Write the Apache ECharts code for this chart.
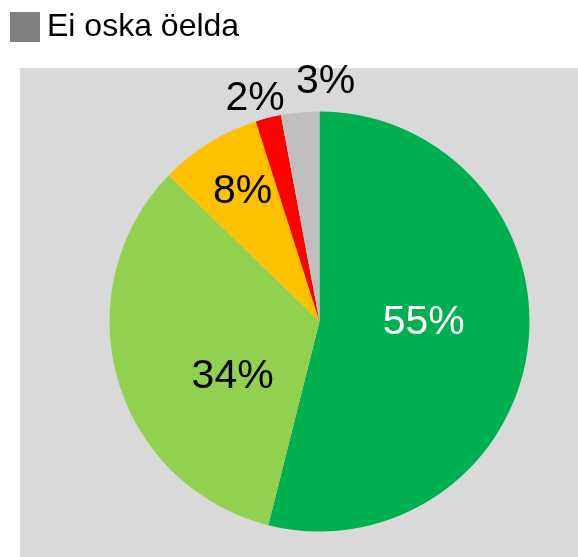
<!DOCTYPE html>
<html>
<head>
<meta charset="utf-8">
<script src="https://cdn.jsdelivr.net/npm/echarts@6/dist/echarts.min.js"></script>
<style>
html,body{margin:0;padding:0;background:#fff;}
#c{width:578px;height:557px;}
</style>
</head>
<body>
<div id="c"></div>
<script>
var categories = ['Täiesti nõus', 'Pigem nõus', 'Pigem ei ole nõus', 'Üldse ei ole nõus', 'Ei oska öelda'];
var values = [55, 34, 8, 2, 3];
var colors = ['#00B050', '#92D050', '#FFC000', '#FF0000', '#BFBFBF'];
var labelColors = ['#FFFFFF', '#000000', '#000000', '#000000', '#000000'];
var labelOffsets = [[-3, -12], [17, 26], [-20, -38], [-38, -118], [16, -132]];
var legendShown = ['Ei oska öelda'];

var chart = echarts.init(document.getElementById('c'), null, {renderer: 'canvas'});
var font = 'Liberation Sans, Arial, sans-serif';
chart.setOption({
  backgroundColor: '#FFFFFF',
  animation: false,
  graphic: [{
    type: 'rect', z: -10, silent: true,
    shape: {x: 20, y: 68, width: 558, height: 489},
    style: {fill: '#D9D9D9'}
  }],
  legend: {
    left: 10, top: 11, padding: 0,
    icon: 'rect', itemWidth: 30, itemHeight: 30, itemGap: 10,
    data: legendShown.map(function (n) { return {name: n, itemStyle: {color: '#808080'}}; }),
    textStyle: {fontFamily: font, fontSize: 32, color: '#000', padding: [2, 0, 0, 2]}
  },
  series: [{
    type: 'pie',
    center: [319.5, 321.5],
    radius: 210,
    startAngle: 90,
    clockwise: true,
    avoidLabelOverlap: false,
    labelLine: {show: false},
    itemStyle: {borderWidth: 0},
    data: categories.map(function (n, i) {
      return {
        name: n, value: values[i],
        itemStyle: {color: colors[i]},
        label: {
          show: true, position: 'inside',
          formatter: values[i] + '%',
          color: labelColors[i],
          fontFamily: font, fontSize: 41,
          offset: labelOffsets[i]
        }
      };
    })
  }]
});
</script>
</body>
</html>
